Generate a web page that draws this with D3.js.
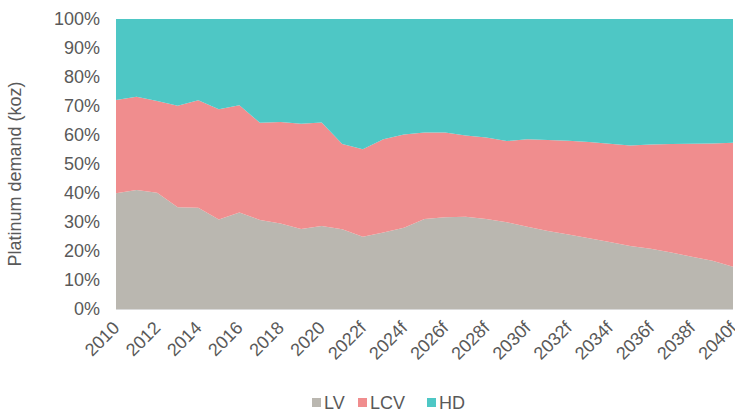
<!DOCTYPE html>
<html>
<head>
<meta charset="utf-8">
<script src="https://cdn.jsdelivr.net/npm/d3@7"></script>
<style>
  html, body { margin: 0; padding: 0; background: #fff; }
  svg { display: block; font-family: "Liberation Sans", Arial, sans-serif; }
</style>
</head>
<body>
<svg id="chart" width="735" height="412"></svg>
<script>
const years = ["2010","2011","2012","2013","2014","2015","2016","2017","2018","2019","2020",
  "2021f","2022f","2023f","2024f","2025f","2026f","2027f","2028f","2029f","2030f",
  "2031f","2032f","2033f","2034f","2035f","2036f","2037f","2038f","2039f","2040f"];
const LV  = [39.9,41.0,40.1,35.1,34.9,30.9,33.3,30.7,29.5,27.6,28.6,27.5,24.9,26.4,28.0,31.0,31.6,31.8,31.0,29.9,28.4,26.9,25.7,24.4,23.1,21.7,20.8,19.5,18.0,16.6,14.6];
const LCV = [32.2,32.2,31.6,35.0,37.1,38.0,37.0,33.5,35.0,36.3,35.7,29.4,30.2,32.1,32.2,29.9,29.3,28.0,28.1,28.0,30.1,31.4,32.3,33.2,33.9,34.7,35.9,37.4,39.0,40.5,42.7];
const HD  = [27.9,26.8,28.3,29.9,28.0,31.1,29.7,35.8,35.5,36.1,35.7,43.1,44.9,41.5,39.8,39.1,39.1,40.2,40.9,42.1,41.5,41.7,42.0,42.4,43.0,43.6,43.3,43.1,43.0,42.9,42.7];
const seriesNames = ["LV","LCV","HD"];
const colors = ["#bab7b0","#f08d8e","#4ec7c5"];
const yTicks = [0,0.1,0.2,0.3,0.4,0.5,0.6,0.7,0.8,0.9,1.0];

const table = years.map((y,i) => ({year: y, LV: LV[i], LCV: LCV[i], HD: HD[i]}));

const svg = d3.select("#chart");
const margin = {left: 116, right: 2, top: 19, bottom: 103};
const W = 735, H = 412;
const x = d3.scalePoint().domain(years).range([margin.left, W - margin.right]);
const y = d3.scaleLinear().domain([0,1]).range([H - margin.bottom, margin.top]);

const stack = d3.stack().keys(seriesNames).offset(d3.stackOffsetExpand);
const layers = stack(table);

const area = d3.area()
  .x(d => x(d.data.year))
  .y0(d => y(d[0]))
  .y1(d => y(d[1]));

svg.append("g").selectAll("path").data(layers).join("path")
  .attr("d", area)
  .attr("fill", (d,i) => colors[i]);

// bottom axis line
svg.append("line")
  .attr("x1", margin.left).attr("x2", W - margin.right)
  .attr("y1", y(0) + 0.5).attr("y2", y(0) + 0.5)
  .attr("stroke", "#d9d9d9").attr("stroke-width", 1);

// y axis
const yAxis = d3.axisLeft(y).tickValues(yTicks).tickFormat(d3.format(".0%")).tickSize(0).tickPadding(16);
const gy = svg.append("g").attr("transform", `translate(${margin.left},0)`).call(yAxis);
gy.select(".domain").remove();
gy.selectAll("text").attr("fill", "#595959").style("font-size", "18px");

// x axis
const xAxis = d3.axisBottom(x).tickValues(years.filter((d,i) => i % 2 === 0)).tickSize(0).tickPadding(0);
const gx = svg.append("g").attr("transform", `translate(0,${y(0)})`).call(xAxis);
gx.select(".domain").remove();
gx.selectAll("text")
  .attr("fill", "#595959")
  .style("font-size", "18px")
  .attr("text-anchor", "end")
  .attr("dy", null)
  .attr("y", 0)
  .attr("transform", "translate(4,20) rotate(-45)");

// y axis title
svg.append("text")
  .attr("transform", "translate(21,174) rotate(-90)")
  .attr("text-anchor", "middle")
  .attr("fill", "#595959")
  .style("font-size", "18px")
  .text("Platinum demand (koz)");

// legend
const legendX = [312, 358, 427];
const lg = svg.append("g");
seriesNames.forEach((n,i) => {
  lg.append("rect")
    .attr("x", legendX[i]).attr("y", 398)
    .attr("width", 9).attr("height", 9)
    .attr("fill", colors[i]);
  lg.append("text")
    .attr("x", legendX[i] + 12).attr("y", 409)
    .attr("fill", "#595959")
    .style("font-size", "18px")
    .text(n);
});
</script>
</body>
</html>
